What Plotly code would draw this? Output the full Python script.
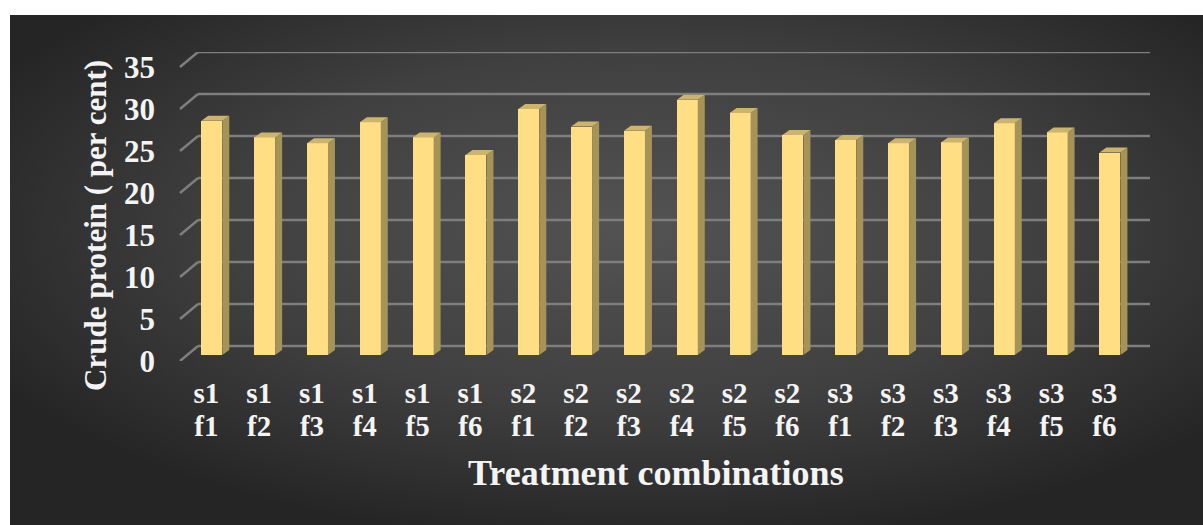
import base64
import plotly.graph_objects as go

# ---- data -------------------------------------------------------------
treatments_s = ["s1"] * 6 + ["s2"] * 6 + ["s3"] * 6
treatments_f = ["f1", "f2", "f3", "f4", "f5", "f6"] * 3
crude_protein = [27.9, 25.9, 25.2, 27.7, 25.9, 23.8,
                 29.3, 27.2, 26.7, 30.4, 28.8, 26.2,
                 25.6, 25.2, 25.3, 27.6, 26.5, 24.1]
y_ticks = [0, 5, 10, 15, 20, 25, 30, 35]

# ---- geometry (pixels of the 1203x525 canvas) -------------------------
W, H = 1203, 525
PLOT_L, PLOT_R, PLOT_T, PLOT_B = 180, 1150, 52, 361
PX_PER_CAT = 52.83          # distance between neighbouring columns
PX_PER_UNIT = 8.4           # vertical pixels per per-cent
FIRST_CAT_PX = 211.8        # centre of first column front face
BAR_BASE_PX = 355           # bottom of the column front faces
DEPTH_X_PX, DEPTH_Y_PX = 7, 5      # column side / top depth
WALL_X_PX, WALL_Y_PX = 18, 15      # floor depth for the gridlines
LABEL_SHIFT_PX = 5.5

plot_w = PLOT_R - PLOT_L
plot_h = PLOT_B - PLOT_T
x0 = -(FIRST_CAT_PX - PLOT_L) / PX_PER_CAT
x1 = x0 + plot_w / PX_PER_CAT
y_bar0 = -(PLOT_B - BAR_BASE_PX) / PX_PER_UNIT
y_bar1 = (BAR_BASE_PX - PLOT_T) / PX_PER_UNIT
y_front1 = plot_h / PX_PER_UNIT
shift = LABEL_SHIFT_PX / PX_PER_CAT

n = len(crude_protein)
xs = list(range(n))
bar_w = 21 / PX_PER_CAT
dx = DEPTH_X_PX / PX_PER_CAT
dy = DEPTH_Y_PX / PX_PER_UNIT

FRONT = "#FFDE84"
SIDE = "#A69358"
TOP = "#CDB46C"
TEXT = "#F4F4F4"
GRID = "#7E7E7E"
FONT = "Liberation Serif, Times New Roman, serif"

fig = go.Figure()

# front faces of the columns
fig.add_trace(go.Bar(
    x=xs, y=crude_protein, width=bar_w, marker=dict(color=FRONT, line=dict(width=0)),
    xaxis="x", yaxis="y", hoverinfo="skip", showlegend=False,
))

# side and top faces built from the same values
side_x, side_y, top_x, top_y = [], [], [], []
for x, v in zip(xs, crude_protein):
    xl, xr = x - bar_w / 2, x + bar_w / 2
    side_x += [xr, xr + dx, xr + dx, xr, xr, None]
    side_y += [0, dy, v + dy, v, 0, None]
    top_x += [xl, xr, xr + dx, xl + dx, xl, None]
    top_y += [v, v, v + dy, v + dy, v, None]

fig.add_trace(go.Scatter(x=side_x, y=side_y, mode="lines", fill="toself",
                         fillcolor=SIDE, line=dict(width=0, color=SIDE),
                         xaxis="x", yaxis="y", hoverinfo="skip", showlegend=False))
fig.add_trace(go.Scatter(x=top_x, y=top_y, mode="lines", fill="toself",
                         fillcolor=TOP, line=dict(width=0, color=TOP),
                         xaxis="x", yaxis="y", hoverinfo="skip", showlegend=False))

# gridlines on the back wall with the slanted floor segment in front
wall_dy = WALL_Y_PX / PX_PER_UNIT
wall_dx = WALL_X_PX / plot_w
shapes = []
for t in y_ticks:
    shapes.append(dict(type="line", xref="paper", yref="y2", layer="below",
                       x0=0, y0=t, x1=wall_dx, y1=t + wall_dy,
                       line=dict(color=GRID, width=2.5)))
    shapes.append(dict(type="line", xref="paper", yref="y2", layer="below",
                       x0=wall_dx, y0=t + wall_dy, x1=1, y1=t + wall_dy,
                       line=dict(color=GRID, width=2.5)))

# dark radial-gradient panel
panel_l, panel_t, panel_r, panel_b = 10, 15, W, H
svg = (
    f'<svg xmlns="http://www.w3.org/2000/svg" width="{panel_r - panel_l}" '
    f'height="{panel_b - panel_t}" viewBox="0 0 {panel_r - panel_l} {panel_b - panel_t}" '
    'preserveAspectRatio="none">'
    '<defs><radialGradient id="g" cx="0.53" cy="0.42" r="0.62">'
    '<stop offset="0" stop-color="#535353"/>'
    '<stop offset="0.55" stop-color="#404040"/>'
    '<stop offset="1" stop-color="#252525"/>'
    '</radialGradient></defs>'
    f'<rect width="{panel_r - panel_l}" height="{panel_b - panel_t}" fill="url(#g)"/></svg>'
)
svg_uri = "data:image/svg+xml;base64," + base64.b64encode(svg.encode()).decode()

def px_to_paper_x(px):
    return (px - PLOT_L) / plot_w

def px_to_paper_y(py):
    return (PLOT_B - py) / plot_h

fig.update_layout(
    width=W, height=H,
    margin=dict(l=PLOT_L, r=W - PLOT_R, t=PLOT_T, b=H - PLOT_B, pad=0),
    paper_bgcolor="white",
    plot_bgcolor="rgba(0,0,0,0)",
    bargap=0,
    shapes=shapes,
    images=[dict(source=svg_uri, xref="paper", yref="paper",
                 x=px_to_paper_x(panel_l), y=px_to_paper_y(panel_t),
                 sizex=(panel_r - panel_l) / plot_w, sizey=(panel_b - panel_t) / plot_h,
                 xanchor="left", yanchor="top", sizing="stretch", layer="below")],
    xaxis=dict(range=[x0, x1], showgrid=False, zeroline=False, showticklabels=False,
               showline=False, fixedrange=True),
    xaxis2=dict(range=[x0 + shift, x1 + shift], overlaying="x", side="bottom", anchor="y",
                tickmode="array", tickvals=xs, ticktext=treatments_s,
                showgrid=False, zeroline=False, showline=False, ticks="",
                ticklabelstandoff=12,
                tickfont=dict(family=FONT, size=29, color=TEXT, weight="bold")),
    xaxis3=dict(range=[x0 + shift, x1 + shift], overlaying="x", side="bottom", anchor="y",
                tickmode="array", tickvals=xs, ticktext=treatments_f,
                showgrid=False, zeroline=False, showline=False, ticks="",
                ticklabelstandoff=45,
                tickfont=dict(family=FONT, size=29, color=TEXT, weight="bold")),
    yaxis=dict(range=[y_bar0, y_bar1], showgrid=False, zeroline=False,
               showticklabels=False, showline=False, fixedrange=True),
    yaxis2=dict(range=[0, y_front1], overlaying="y", side="left", anchor="x",
                tickmode="array", tickvals=y_ticks, ticktext=[str(t) for t in y_ticks],
                showgrid=False, zeroline=False, showline=False, ticks="",
                ticklabelstandoff=24,
                tickfont=dict(family=FONT, size=31, color=TEXT, weight="bold")),
    annotations=[
        dict(text="Crude protein ( per cent)", xref="paper", yref="paper",
             x=px_to_paper_x(95), y=px_to_paper_y(226), textangle=-90,
             xanchor="center", yanchor="middle", showarrow=False,
             font=dict(family=FONT, size=31, color=TEXT, weight="bold")),
        dict(text="Treatment combinations", xref="paper", yref="paper",
             x=px_to_paper_x(656), y=px_to_paper_y(473),
             xanchor="center", yanchor="middle", showarrow=False,
             font=dict(family=FONT, size=36, color=TEXT, weight="bold")),
    ],
)

# empty traces so the label axes are drawn
fig.add_trace(go.Scatter(x=[None], y=[None], xaxis="x2", yaxis="y", showlegend=False))
fig.add_trace(go.Scatter(x=[None], y=[None], xaxis="x3", yaxis="y", showlegend=False))
fig.add_trace(go.Scatter(x=[None], y=[None], xaxis="x", yaxis="y2", showlegend=False))

fig.write_html("out.html")
